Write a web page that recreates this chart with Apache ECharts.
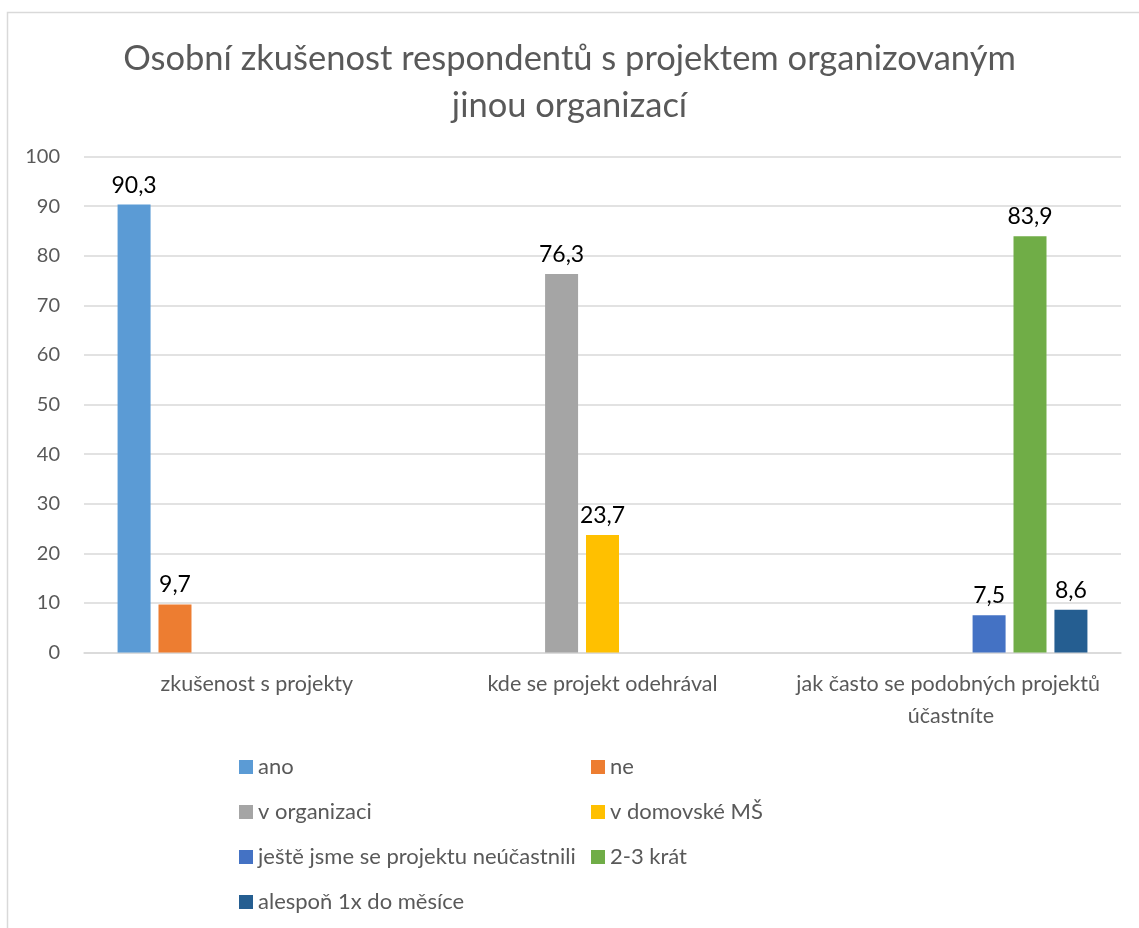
<!DOCTYPE html>
<html>
<head>
<meta charset="utf-8">
<script src="https://cdn.jsdelivr.net/npm/echarts@6/dist/echarts.min.js"></script>
<style>
  html, body { margin: 0; padding: 0; background: #fff; }
  #chart { width: 1139px; height: 928px; }
</style>
</head>
<body>
<div id="chart"></div>
<script>
const categories = ["zkušenost s projekty", "kde se projekt odehrával", "jak často se podobných projektů účastníte"];
const seriesNames = ["ano", "ne", "v organizaci", "v domovské MŠ", "ještě jsme se projektu neúčastnili", "2-3 krát", "alespoň 1x do měsíce"];
const colors = ["#5B9BD5", "#ED7D31", "#A5A5A5", "#FFC000", "#4472C4", "#70AD47", "#255E91"];
const ano = [90.3, null, null];
const ne = [9.7, null, null];
const vOrganizaci = [null, 76.3, null];
const vDomovske = [null, 23.7, null];
const jesteNe = [null, null, 7.5];
const dvaTri = [null, null, 83.9];
const alesponJednou = [null, null, 8.6];
const yTicks = [0, 10, 20, 30, 40, 50, 60, 70, 80, 90, 100];

const values = [ano, ne, vOrganizaci, vDomovske, jesteNe, dvaTri, alesponJednou];
const font = "Lato, 'Noto Sans', sans-serif";
const gray = "#595959";

const chart = echarts.init(document.getElementById("chart"));
chart.setOption({
  animation: false,
  textStyle: { fontFamily: font },
  title: {
    text: "Osobní zkušenost respondentů s projektem organizovaným\njinou organizací",
    left: "center",
    top: 30,
    textStyle: { fontFamily: font, fontSize: 34.5, fontWeight: "normal", color: gray, lineHeight: 47 },
  },
  graphic: [
    {
      type: "rect",
      shape: { x: 7.5, y: 12.5, width: 1200, height: 1000 },
      style: { fill: "none", stroke: "#D9D9D9", lineWidth: 1.5 },
      silent: true,
    },
  ],
  grid: { left: 84, right: 18, top: 156.5, bottom: 275.5 },
  legend: [
    {
      orient: "vertical",
      left: 234,
      top: 751,
      itemWidth: 14,
      itemHeight: 14,
      itemGap: 23,
      icon: "rect",
      textStyle: { fontFamily: font, fontSize: 22, color: gray, lineHeight: 22 },
      data: [seriesNames[0], seriesNames[2], seriesNames[4], seriesNames[6]],
    },
    {
      orient: "vertical",
      left: 586,
      top: 751,
      itemWidth: 14,
      itemHeight: 14,
      itemGap: 23,
      icon: "rect",
      textStyle: { fontFamily: font, fontSize: 22, color: gray, lineHeight: 22 },
      data: [seriesNames[1], seriesNames[3], seriesNames[5]],
    },
  ],
  xAxis: {
    type: "category",
    data: categories,
    axisTick: { show: false },
    axisLine: { lineStyle: { color: "#D9D9D9", width: 1.5 } },
    axisLabel: {
      fontFamily: font,
      fontSize: 21.5,
      color: gray,
      margin: 16,
      lineHeight: 32,
      interval: 0,
      width: 340,
      overflow: "break",
    },
  },
  yAxis: {
    type: "value",
    min: yTicks[0],
    max: yTicks[yTicks.length - 1],
    interval: 10,
    axisLine: { show: false },
    axisTick: { show: false },
    splitLine: { lineStyle: { color: "#D9D9D9", width: 1.5 } },
    axisLabel: { fontFamily: font, fontSize: 20, color: gray, margin: 24 },
  },
  series: seriesNames.map((name, i) => ({
    name,
    type: "bar",
    data: values[i],
    barWidth: 33,
    barGap: "24%",
    itemStyle: { color: colors[i] },
    label: {
      show: true,
      position: "top",
      distance: 8,
      fontFamily: font,
      fontSize: 23,
      color: "#000",
      formatter: (p) => String(p.value).replace(".", ","),
    },
  })),
});
</script>
</body>
</html>
